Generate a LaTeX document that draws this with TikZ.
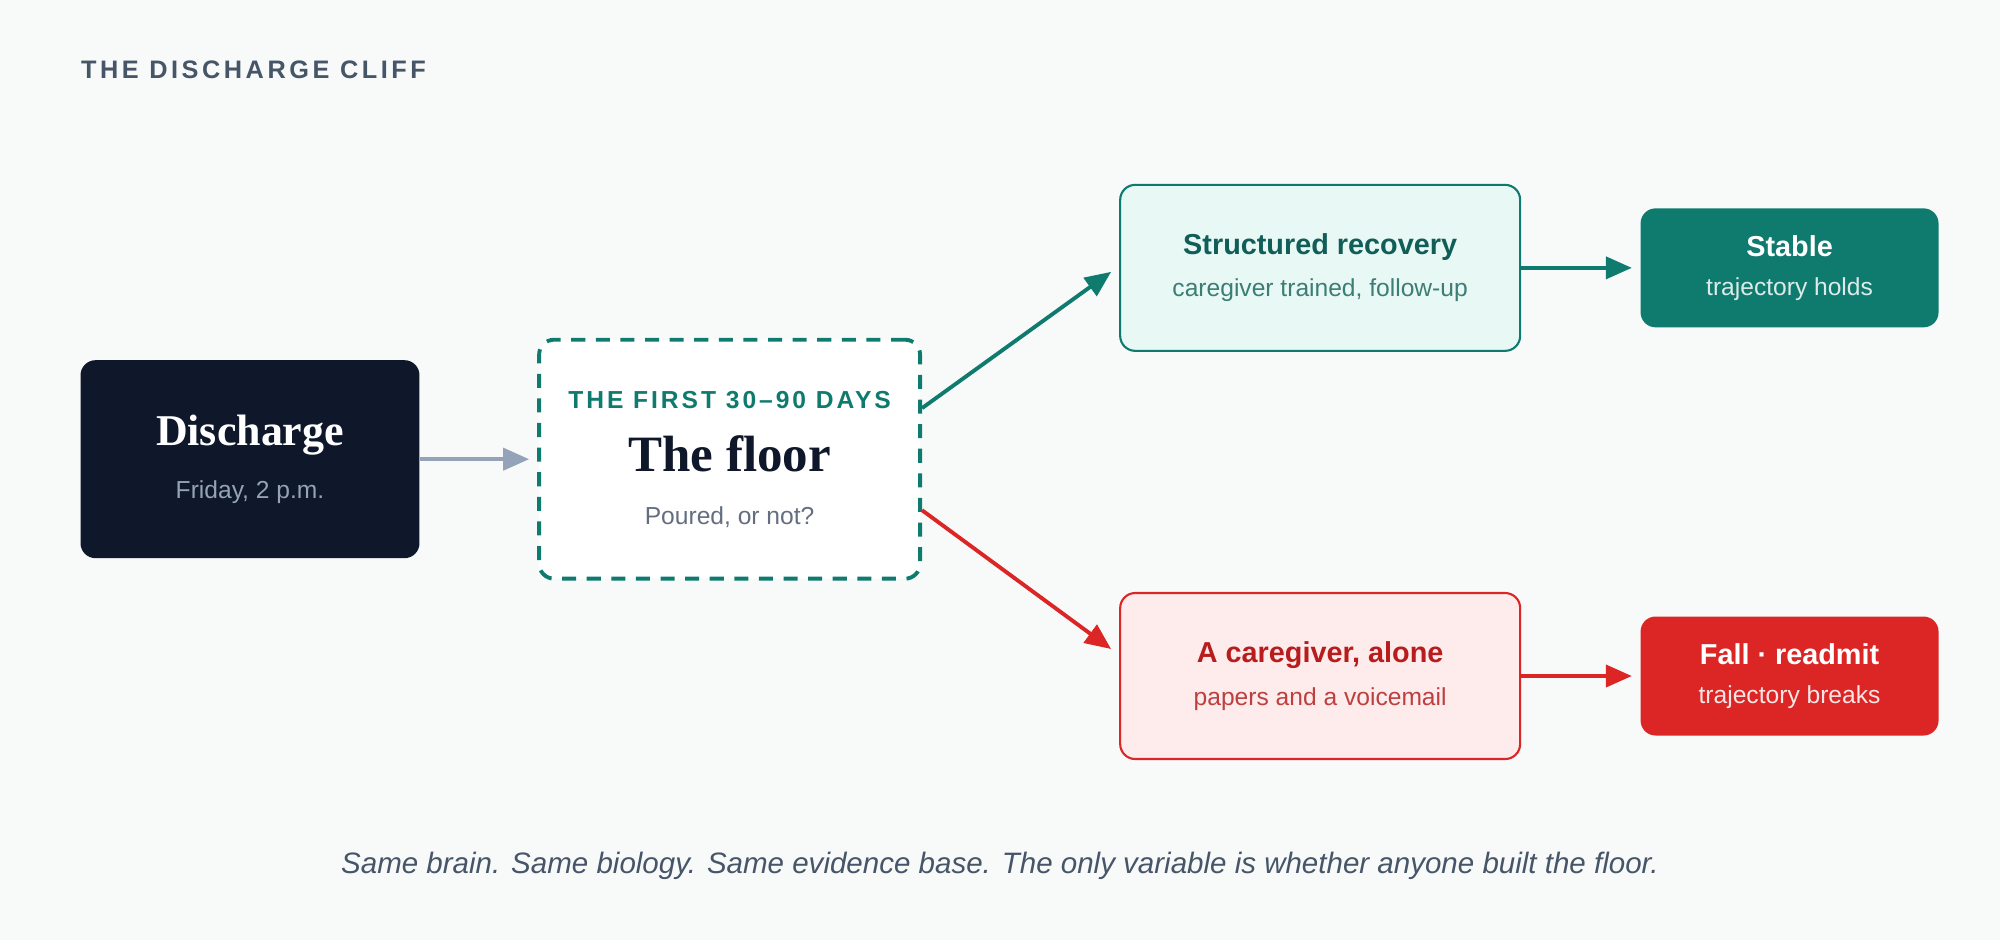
\documentclass[tikz,border=0pt]{standalone}
\usepackage{fontspec}
\setmainfont{Liberation Sans}
\newfontfamily\headserif{Liberation Serif}
\usetikzlibrary{arrows.meta,calc}
\definecolor{bgpage}{HTML}{F8FAFA}
\definecolor{ink}{HTML}{0F172A}
\definecolor{slate}{HTML}{475569}
\definecolor{mist}{HTML}{94A3B8}
\definecolor{teal}{HTML}{0F7B6F}
\definecolor{tealdark}{HTML}{115E59}
\definecolor{tealsoft}{HTML}{E8F8F4}
\definecolor{redmain}{HTML}{DC2626}
\definecolor{reddark}{HTML}{B91C1C}
\definecolor{redsoft}{HTML}{FEEBEB}
\tikzset{
  box/.style={rounded corners=0.15cm, align=center, inner sep=0pt},
  flow/.style={line width=1.1pt, -{Triangle[length=0.26cm,width=0.22cm]}},
}
\begin{document}
\begin{tikzpicture}[x=0.012755cm,y=-0.012755cm]
\fill[bgpage] (0,0) rectangle (1568,737);
\useasboundingbox (0,0) rectangle (1568,737);
\node[anchor=west,inner sep=0pt,text=slate,font=\bfseries\fontsize{7.2}{8}\selectfont\addfontfeatures{LetterSpace=14}] (title) at (63,55) {THE DISCHARGE CLIFF};
% boxes
\node[box,fill=ink,minimum width=3.39cm,minimum height=1.98cm] (dis) at (196,360)
  {{\headserif\bfseries\fontsize{12.5}{13}\selectfont\color{white}Discharge}\\[3pt]
   {\fontsize{7}{8}\selectfont\color{mist}Friday, 2 p.m.}};
\node[box,fill=white,draw=teal,line width=1.1pt,dash pattern=on 4pt off 3pt,minimum width=3.81cm,minimum height=2.39cm] (floor) at (572,360)
  {{\bfseries\fontsize{7}{8}\selectfont\addfontfeatures{LetterSpace=12}\color{teal}THE FIRST 30–90 DAYS}\\[6pt]
   {\headserif\bfseries\fontsize{14.5}{15}\selectfont\color{ink}The floor}\\[3pt]
   {\fontsize{7}{8}\selectfont\color{slate!85}Poured, or not?}};
\node[box,fill=tealsoft,draw=teal,line width=0.6pt,minimum width=4.0cm,minimum height=1.66cm] (rec) at (1035,210)
  {{\bfseries\fontsize{8.2}{9}\selectfont\color{tealdark}Structured recovery}\\[0pt]
   {\fontsize{7}{8}\selectfont\color{teal!75!black!80}caregiver trained, follow-up}};
\node[box,fill=teal,minimum width=2.98cm,minimum height=1.19cm] (stable) at (1403,210)
  {{\bfseries\fontsize{8.2}{9}\selectfont\color{white}Stable}\\[-1pt]
   {\fontsize{7}{8}\selectfont\color{white!85!teal}trajectory holds}};
\node[box,fill=redsoft,draw=redmain,line width=0.6pt,minimum width=4.0cm,minimum height=1.66cm] (alone) at (1035,530)
  {{\bfseries\fontsize{8.2}{9}\selectfont\color{reddark}A caregiver, alone}\\[0pt]
   {\fontsize{7}{8}\selectfont\color{redmain!80!black!85}papers and a voicemail}};
\node[box,fill=redmain,minimum width=2.98cm,minimum height=1.19cm] (fall) at (1403,530)
  {{\bfseries\fontsize{8.2}{9}\selectfont\color{white}Fall · readmit}\\[-1pt]
   {\fontsize{7}{8}\selectfont\color{white!88!redmain}trajectory breaks}};
% connectors
\draw[flow,mist] (dis.east) -- ([xshift=-0.08cm]floor.west);
\draw[flow,teal] ($(floor.east)+(0,-40)$) -- ([xshift=-0.08cm,yshift=-0.04cm]rec.west);
\draw[flow,redmain] ($(floor.east)+(0,40)$) -- ([xshift=-0.08cm,yshift=0.27cm]alone.west);
\draw[flow,teal] (rec.east) -- ([xshift=-0.08cm]stable.west);
\draw[flow,redmain] (alone.east) -- ([xshift=-0.08cm]fall.west);
\node[text=slate,font=\itshape\fontsize{8.4}{9}\selectfont] (note) at (784,679)
  {Same brain. Same biology. Same evidence base. The only variable is whether anyone built the floor.};
\end{tikzpicture}
\end{document}
